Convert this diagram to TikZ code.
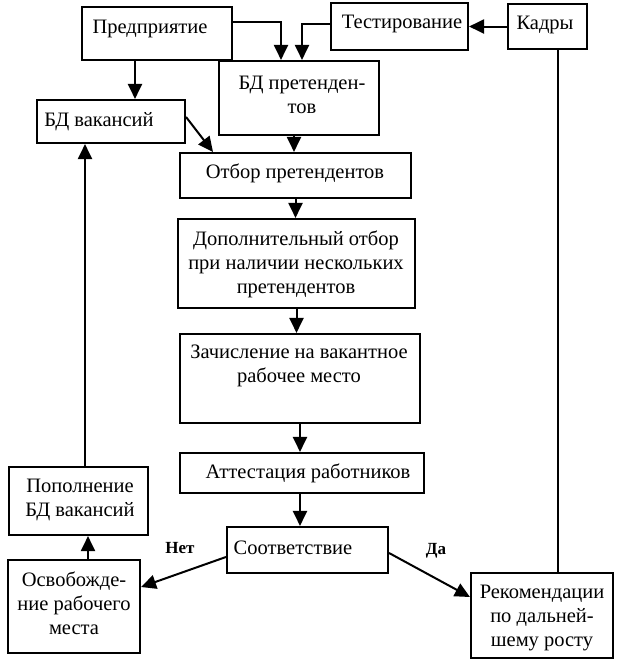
\documentclass[tikz,border=0pt]{standalone}
\usepackage{fontspec}
\setmainfont{Liberation Serif}
\usetikzlibrary{arrows.meta}
\begin{document}
\begin{tikzpicture}[x=1pt,y=-1pt,
  box/.style 2 args={draw, line width=2.1pt, minimum width=#1, minimum height=#2, inner sep=0pt},
  txt/.style={font=\fontsize{20.5}{24}\selectfont, align=center, inner sep=0pt},
  lbl/.style={font=\fontsize{17}{19}\selectfont\bfseries, inner sep=0pt},
  arr/.style={line width=2pt, -{Triangle[length=15pt,width=14pt]}},
  plain/.style={line width=2pt}]
\useasboundingbox (0,0) rectangle (622,672);

% boxes
\node[box={150pt}{53pt}] (pred)  at (157,33.5) {};
\node[box={137pt}{47pt}] (test)  at (399.5,26.5) {};
\node[box={79pt}{45pt}]  (kadry) at (547.5,26.5) {};
\node[box={160pt}{74pt}] (bdp)   at (299,98) {};
\node[box={148pt}{43pt}] (bdv)   at (111,121.5) {};
\node[box={231pt}{45pt}] (otbor) at (295.5,175.5) {};
\node[box={237pt}{89pt}] (dop)   at (296.5,263.5) {};
\node[box={240pt}{89pt}] (zach)  at (300,378.5) {};
\node[box={244pt}{40pt}] (att)   at (302,473) {};
\node[box={161pt}{46pt}] (sootv) at (307.5,550) {};
\node[box={139pt}{68pt}] (popol) at (78.5,501) {};
\node[box={132pt}{93pt}] (osv)   at (74,606.5) {};
\node[box={142pt}{85pt}] (rek)   at (542,615.5) {};

% texts
\node[txt] (tpred)  at (150,29) {Предприятие};
\node[txt] (ttest)  at (402,24) {Тестирование};
\node[txt] (tkadry) at (545,25) {Кадры};
\node[txt] (tbdp)   at (302,95) {БД претенден-\\тов};
\node[txt] (tbdv)   at (99,122) {БД вакансий};
\node[txt] (totbor) at (295,173) {Отбор претендентов};
\node[txt] (tdop)   at (296,264) {Дополнительный отбор\\при наличии нескольких\\претендентов};
\node[txt] (tzach)  at (299,365.5) {Зачисление на вакантное\\рабочее место};
\node[txt] (tatt)   at (308,473) {Аттестация работников};
\node[txt] (tsootv) at (293,548) {Соответствие};
\node[txt] (tpopol) at (80,500) {Пополнение\\БД вакансий};
\node[txt] (tosv)   at (74,603) {Освобожде-\\ние рабочего\\места};
\node[txt] (trek)   at (542,618) {Рекомендации\\по дальней-\\шему росту};
\node[lbl] (lnet) at (180,548) {Нет};
\node[lbl] (lda)  at (436,551) {Да};

% connectors
\draw[arr] ([xshift=24pt]bdv.north |- pred.south) -- ([xshift=24pt]bdv.north);
\draw[arr] ([yshift=11.5pt]pred.east) -| ([xshift=-18pt]bdp.north);
\draw[arr] ([yshift=2.5pt]test.west) -| ([xshift=3pt]bdp.north);
\draw[arr] (kadry.west) -- (test.east);
\draw[plain] ([xshift=10pt]kadry.south) -- ([xshift=10pt]kadry.south |- rek.north);
\draw[arr] ([yshift=4.5pt]bdv.east) -- ([xshift=-82.5pt]otbor.north);
\draw[arr] ([xshift=-5pt]bdp.south) -- ([xshift=-5pt]bdp.south |- otbor.north);
\draw[arr] (otbor.south) -- (otbor.south |- dop.north);
\draw[arr] (dop.south) -- (dop.south |- zach.north);
\draw[arr] (zach.south) -- (zach.south |- att.north);
\draw[arr] ([xshift=-2pt]att.south) -- ([xshift=-2pt]att.south |- sootv.north);
\draw[arr] ([yshift=-7pt]sootv.west) -- ([yshift=19.5pt]osv.east);
\draw[arr] ([yshift=-3pt]sootv.east) -- ([yshift=18.5pt]rek.west);
\draw[arr] ([xshift=14pt]osv.north) -- ([xshift=14pt]osv.north |- popol.south);
\draw[arr] ([xshift=6.5pt]popol.north) -- ([xshift=6.5pt]popol.north |- bdv.south);
\end{tikzpicture}
\end{document}
